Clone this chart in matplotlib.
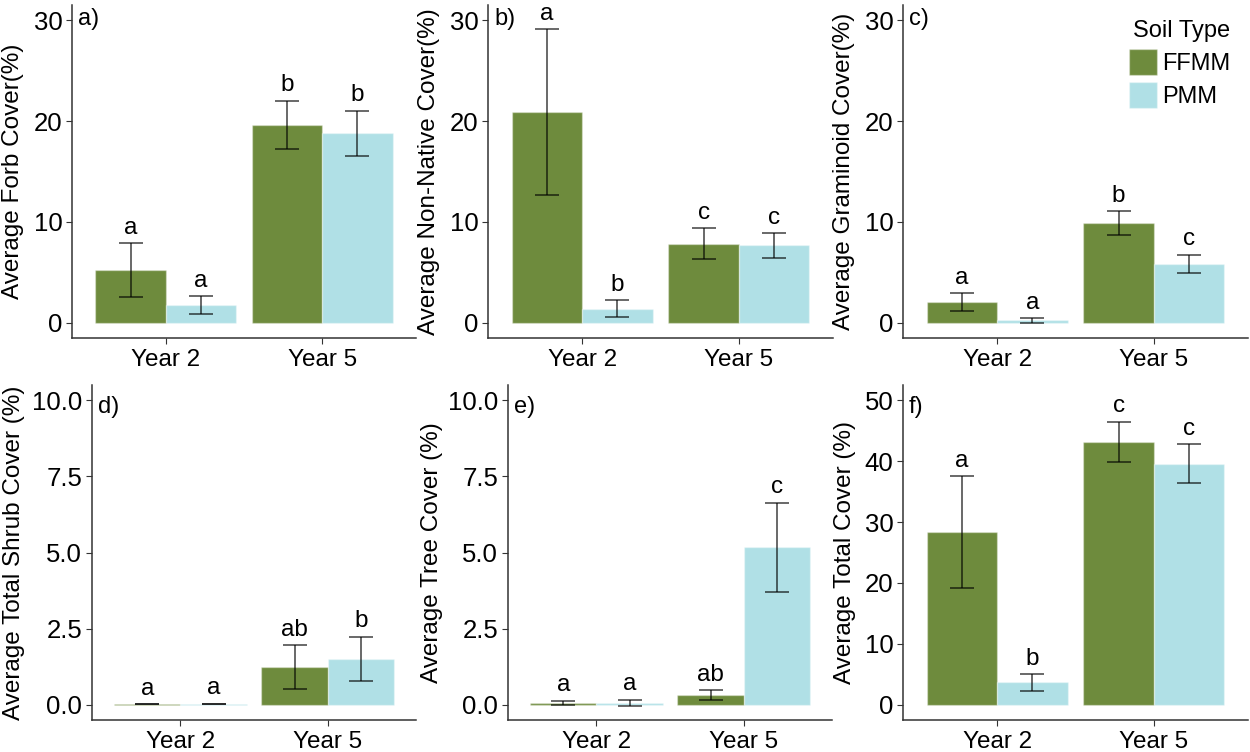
import numpy as np
import matplotlib.pyplot as plt
from matplotlib.patches import Patch

plt.rcParams['font.family'] = ['Liberation Sans', 'DejaVu Sans']

years = ['Year 2', 'Year 5']
soil_types = ['FFMM', 'PMM']

# means and standard errors
forb_ffmm = [5.26, 19.62]
forb_ffmm_se = [2.66, 2.40]
forb_pmm = [1.74, 18.80]
forb_pmm_se = [0.89, 2.23]
forb_letters = [['a', 'b'], ['a', 'b']]

nonnat_ffmm = [20.87, 7.85]
nonnat_ffmm_se = [8.23, 1.56]
nonnat_pmm = [1.38, 7.69]
nonnat_pmm_se = [0.84, 1.22]
nonnat_letters = [['a', 'c'], ['b', 'c']]

gram_ffmm = [2.04, 9.86]
gram_ffmm_se = [0.90, 1.18]
gram_pmm = [0.26, 5.85]
gram_pmm_se = [0.23, 0.92]
gram_letters = [['a', 'b'], ['a', 'c']]

shrub_ffmm = [0.02, 1.24]
shrub_ffmm_se = [0.0, 0.73]
shrub_pmm = [0.04, 1.51]
shrub_pmm_se = [0.0, 0.73]
shrub_letters = [['a', 'ab'], ['a', 'b']]

tree_ffmm = [0.07, 0.32]
tree_ffmm_se = [0.07, 0.16]
tree_pmm = [0.07, 5.17]
tree_pmm_se = [0.10, 1.47]
tree_letters = [['a', 'ab'], ['a', 'c']]

total_ffmm = [28.34, 43.20]
total_ffmm_se = [9.20, 3.30]
total_pmm = [3.67, 39.60]
total_pmm_se = [1.37, 3.15]
total_letters = [['a', 'c'], ['b', 'c']]

colors = {'FFMM': '#6E8B3D', 'PMM': '#B0E0E6'}


def main():
    W, H = 1250, 752
    fig = plt.figure(figsize=(W / 100, H / 100), dpi=100)

    # panel boxes in pixels: left, right, top, bottom, ylabel offset
    panels = [
        ('a)', 'Average Forb Cover(%)', forb_ffmm, forb_ffmm_se, forb_pmm, forb_pmm_se, forb_letters,
         [0, 10, 20, 30], ['0', '10', '20', '30'], (72, 416, 5, 338), 48),
        ('b)', 'Average Non-Native Cover(%)', nonnat_ffmm, nonnat_ffmm_se, nonnat_pmm, nonnat_pmm_se, nonnat_letters,
         [0, 10, 20, 30], ['0', '10', '20', '30'], (488, 833, 5, 338), 48),
        ('c)', 'Average Graminoid Cover(%)', gram_ffmm, gram_ffmm_se, gram_pmm, gram_pmm_se, gram_letters,
         [0, 10, 20, 30], ['0', '10', '20', '30'], (903, 1248, 5, 338), 48),
        ('d)', 'Average Total Shrub Cover (%)', shrub_ffmm, shrub_ffmm_se, shrub_pmm, shrub_pmm_se, shrub_letters,
         [0, 2.5, 5, 7.5, 10], ['0.0', '2.5', '5.0', '7.5', '10.0'], (92, 416, 385, 720), 67),
        ('e)', 'Average Tree Cover (%)', tree_ffmm, tree_ffmm_se, tree_pmm, tree_pmm_se, tree_letters,
         [0, 2.5, 5, 7.5, 10], ['0.0', '2.5', '5.0', '7.5', '10.0'], (508, 832, 385, 720), 65),
        ('f)', 'Average Total Cover (%)', total_ffmm, total_ffmm_se, total_pmm, total_pmm_se, total_letters,
         [0, 10, 20, 30, 40, 50], ['0', '10', '20', '30', '40', '50'], (903, 1248, 385, 720), 47),
    ]

    x = np.arange(1, len(years) + 1)
    bw = 0.45
    axes = []
    for (tag, ylab, f_m, f_se, p_m, p_se, lets, yt, ytl, box, yoff) in panels:
        l, r, t, b = box
        ax = fig.add_axes([l / W, 1 - b / H, (r - l) / W, (b - t) / H])
        axes.append(ax)
        for i, (m, se, st) in enumerate([(f_m, f_se, 'FFMM'), (p_m, p_se, 'PMM')]):
            xs = x + (i - 0.5) * bw
            ax.bar(xs, m, width=bw, color=colors[st], edgecolor=(1, 1, 1, 0.35), linewidth=1)
            ax.errorbar(xs, m, yerr=se, fmt='none', ecolor='black', alpha=0.75,
                        elinewidth=1.1, capsize=8.4, capthick=1.1)
            for xi, mi, si, lt in zip(xs, m, se, lets[i]):
                ax.annotate(lt, (xi, mi + si), xytext=(0, 3), textcoords='offset points',
                            ha='center', va='bottom', fontsize=17.5)
        span = yt[-1]
        ax.set_ylim(-0.05 * span, 1.05 * span)
        ax.set_xlim(0.4, 2.6)
        ax.set_yticks(yt)
        ax.set_yticklabels(ytl)
        ax.set_xticks(x)
        ax.set_xticklabels(years)
        ax.tick_params(axis='x', labelsize=17.5, length=4, width=0.8, color='#333333', pad=4)
        ax.tick_params(axis='y', labelsize=18.5, length=4, width=0.8, color='#333333', pad=3)
        for s in ['top', 'right']:
            ax.spines[s].set_visible(False)
        for s in ['left', 'bottom']:
            ax.spines[s].set_color('#333333')
            ax.spines[s].set_linewidth(1.1)
        ax.set_ylabel(ylab, fontsize=17.5)
        ax.yaxis.set_label_coords(-yoff / (r - l), 0.5)
        ytop = 0.99 if t < 100 else 0.968
        ax.text(6 / (r - l), ytop, tag, transform=ax.transAxes, ha='left', va='top', fontsize=17)

    handles = [Patch(facecolor=colors[s], edgecolor=(1, 1, 1, 0.35)) for s in soil_types]
    axes[2].legend(handles, soil_types, title='Soil Type', loc='upper right',
                   bbox_to_anchor=(0.983, 0.99), frameon=False, fontsize=17,
                   title_fontsize=17, handlelength=1.2, handleheight=1.3,
                   handletextpad=0.2, labelspacing=0.3, borderpad=0,
                   alignment='right')

    fig.savefig('out.png', dpi=100)


if __name__ == '__main__':
    main()
